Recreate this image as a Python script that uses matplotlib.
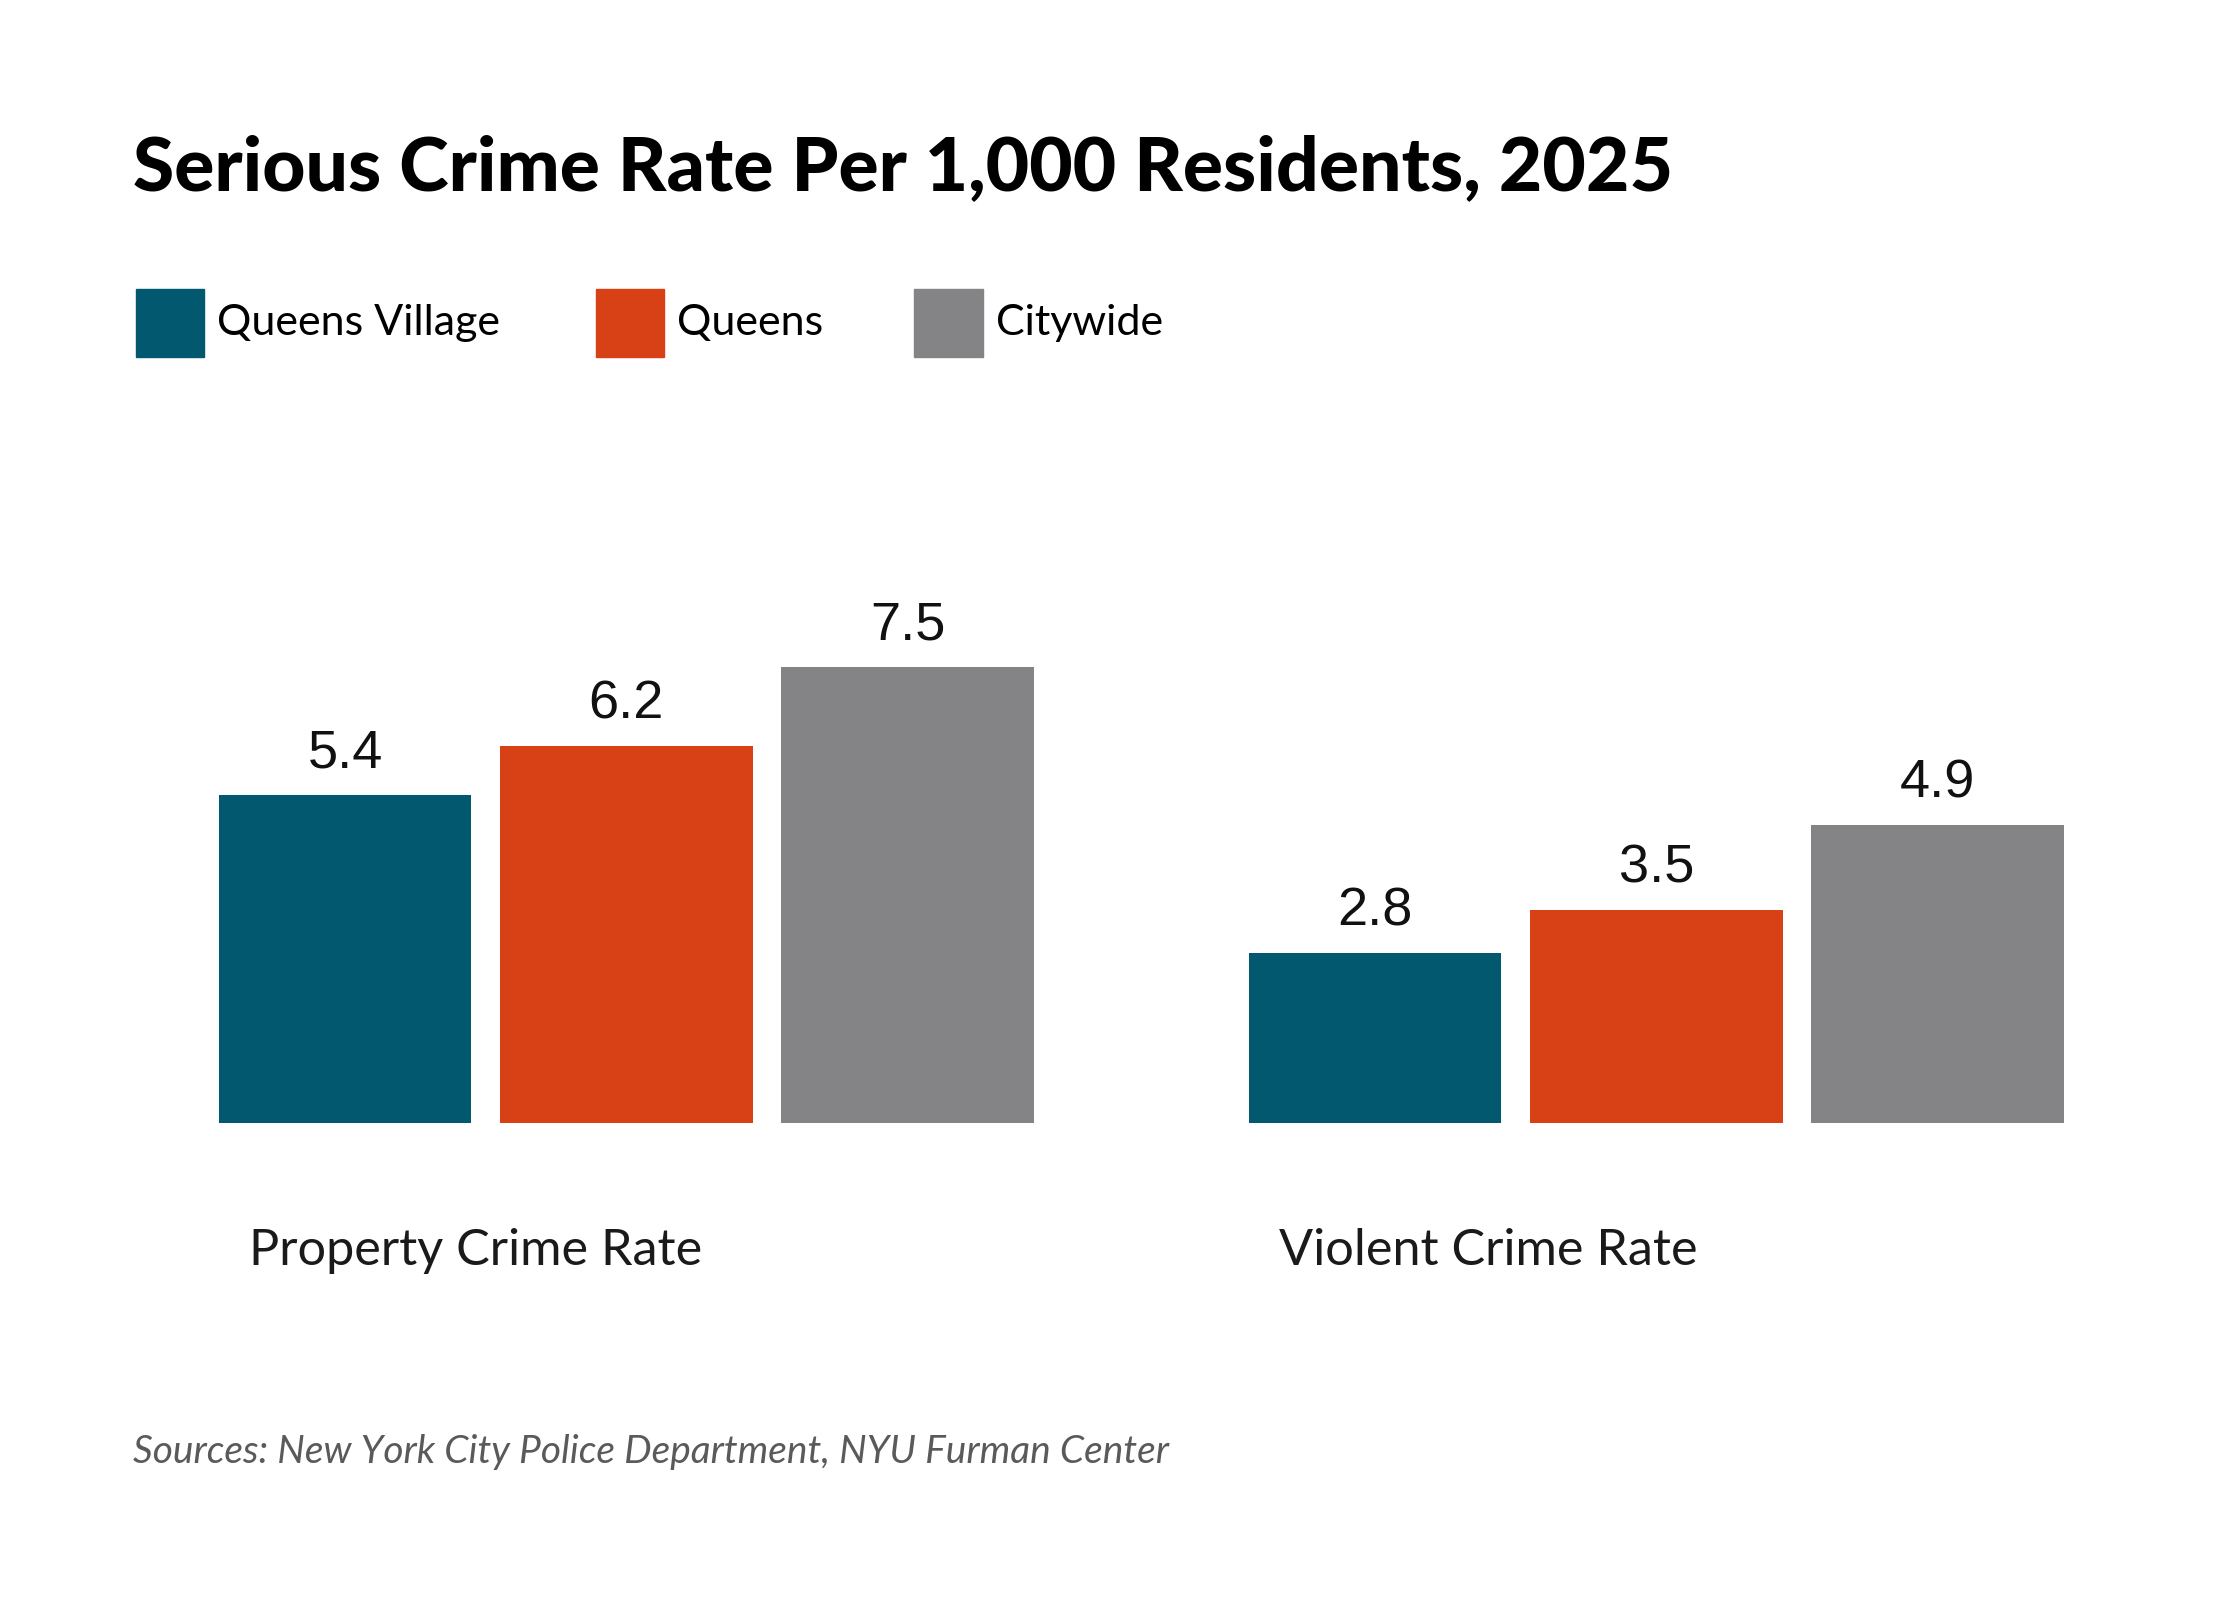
import matplotlib
matplotlib.use("Agg")
import matplotlib.pyplot as plt
from matplotlib.patches import Rectangle
from matplotlib.transforms import blended_transform_factory
import numpy as np

# data
categories = ["Property Crime Rate", "Violent Crime Rate"]
series_names = ["Queens Village", "Queens", "Citywide"]
queens_village = [5.4, 2.8]
queens = [6.2, 3.5]
citywide = [7.5, 4.9]

colors = ["#02586F", "#D84015", "#848486"]
W, H = 1568.0, 1120.0  # working grid, scaled to 2240x1600

fig = plt.figure(figsize=(22.4, 16), dpi=100)
fig.patch.set_facecolor("white")

# axes area for the bars (baseline at 786, left edge 153, right edge 1445)
ax = fig.add_axes([153 / W, 1 - 786 / H, (1445 - 153) / W, 340 / H])
ax.set_ylim(0, 8)

bar_w = 1.0
gap = 20 / 177
group_step = (874 - 153) / 177
x0 = np.arange(len(categories)) * group_step

for i, vals in enumerate([queens_village, queens, citywide]):
    xs = x0 + i * (bar_w + gap)
    bars = ax.bar(xs, vals, width=bar_w, align="edge", color=colors[i], zorder=2)
    for b, v in zip(bars, vals):
        ax.annotate(f"{v:.1f}", (b.get_x() + b.get_width() / 2, v),
                    xytext=(0, 20), textcoords="offset points",
                    ha="center", va="baseline", fontsize=39,
                    family=["Liberation Sans", "DejaVu Sans"], color="#111111")

ax.set_xlim(0, group_step + 2 * (bar_w + gap) + bar_w)
ax.axis("off")

# category labels below the groups, left aligned near group start
trans = blended_transform_factory(ax.transData, fig.transFigure)
for gx, name in zip(x0, categories):
    ax.text(gx + 21 / 177, 1 - 876 / H, name, transform=trans,
            ha="left", va="center", fontsize=36.3, family="Lato", color="#1a1a1a")

# title
fig.text(93 / W, 1 - 133 / H, "Serious Crime Rate Per 1,000 Residents, 2025",
         ha="left", va="baseline", fontsize=54, fontweight="black",
         family="Lato", color="black")

# legend
sq_x = [95, 417, 640]
for sx, name, c in zip(sq_x, series_names, colors):
    fig.patches.append(Rectangle((sx / W, 1 - 250 / H), 48 / W, 48 / H,
                                 transform=fig.transFigure, color=c))
    fig.text((sx + 57) / W, 1 - 226 / H, name, ha="left", va="center",
             fontsize=31, family="Lato", color="black")

# source note
fig.text(93 / W, 1 - 1024 / H,
         "Sources: New York City Police Department, NYU Furman Center",
         ha="left", va="baseline", fontsize=28, style="italic",
         family="Lato", color="#5a5a5a")

fig.savefig("out.png", dpi=100, facecolor="white")
